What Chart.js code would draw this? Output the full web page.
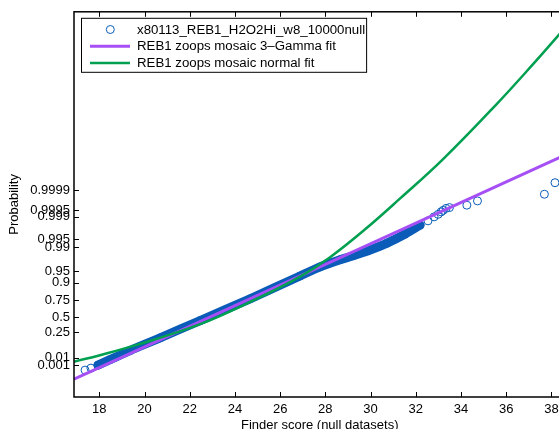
<!DOCTYPE html>
<html>
<head>
<meta charset="utf-8">
<script src="https://cdn.jsdelivr.net/npm/chart.js@4.4.0/dist/chart.umd.min.js"></script>
<style>
  html, body { margin: 0; padding: 0; background: #fff; overflow: hidden; }
  #wrap { width: 580px; height: 440px; }
</style>
</head>
<body>
<div id="wrap"><canvas id="probChart" width="580" height="440"></canvas></div>
<script>
// y values are positions on the probability paper, labels are the probabilities
const probLabels = ['0.001', '0.01', '0.25', '0.5', '0.75', '0.9', '0.95', '0.99', '0.995', '0.999', '0.9995', '0.9999'];
const probPos = [-1.410, -1.197, -0.447, 0, 0.487, 1.013, 1.343, 2.043, 2.288, 2.939, 3.135, 3.716];
const scoreTicks = [18, 20, 22, 24, 26, 28, 30, 32, 34, 36, 38];

// null dataset scores - the middle run is a solid band of overlapping circles
const nullScore = [17.37, 17.63, 17.94, 18.47, 19.36, 20.69, 22.46, 24.67, 26.88, 27.77, 28.65, 29.23, 29.98, 30.73, 31.53, 32.19,
                   32.54, 32.81, 32.99, 33.12, 33.21, 33.34, 33.49, 34.26, 34.73, 37.69, 38.16];
const nullProb = [-1.556, -1.497, -1.410, -1.249, -0.981, -0.610, -0.102, 0.537, 1.205, 1.474, 1.681, 1.798, 1.967, 2.166, 2.434, 2.694,
                  2.822, 2.939, 3.012, 3.085, 3.129, 3.187, 3.211, 3.281, 3.406, 3.602, 3.940];
const denseFrom = 2, denseTo = 16;

const gammaFitScore = [16.88, 38.62];
const gammaFitProb = [-1.818, 4.758];

const normalFitScore = [16.88, 18.03, 19.66, 22.46, 24.67, 26.88, 28.21, 29.76, 31.31, 33.21, 35.58, 37.20, 38.31, 38.62];
const normalFitProb = [-1.308, -1.118, -0.817, -0.207, 0.444, 1.188, 1.757, 2.574, 3.479, 4.632, 6.246, 7.423, 8.260, 8.500];

const blue = '#0a5cb8';
const purple = '#a64ff5';
const green = '#00a050';

function pts(xs, ys) {
    return xs.map((v, i) => ({ x: v, y: ys[i] }));
}

Chart.defaults.font.family = '"Liberation Sans", Arial, sans-serif';
Chart.defaults.font.size = 13;
Chart.defaults.color = '#000';

// matlab style box with inward ticks on all sides
const axesBox = {
    id: 'axesBox',
    afterDraw(chart) {
        const { ctx, chartArea: a, scales: { x, y } } = chart;
        ctx.save();
        ctx.strokeStyle = '#000';
        ctx.lineWidth = 1.5;
        ctx.strokeRect(a.left, a.top, a.right - a.left, a.bottom - a.top);
        ctx.lineWidth = 1;
        ctx.beginPath();
        x.ticks.forEach(t => {
            const px = Math.round(x.getPixelForValue(t.value)) + 0.5;
            ctx.moveTo(px, a.bottom); ctx.lineTo(px, a.bottom - 5);
            ctx.moveTo(px, a.top); ctx.lineTo(px, a.top + 5);
        });
        y.ticks.forEach(t => {
            const py = Math.round(y.getPixelForValue(t.value)) + 0.5;
            ctx.moveTo(a.left, py); ctx.lineTo(a.left + 5, py);
            ctx.moveTo(a.right, py); ctx.lineTo(a.right - 5, py);
        });
        ctx.stroke();
        ctx.restore();
    }
};

// legend box inside the axes, top left
const boxLegend = {
    id: 'boxLegend',
    afterDraw(chart) {
        const { ctx, chartArea: a } = chart;
        const items = chart.data.datasets.filter(d => !d.hideInLegend);
        ctx.save();
        ctx.font = '13.25px "Liberation Sans", Arial, sans-serif';
        const textW = Math.max(...items.map(d => ctx.measureText(d.label).width));
        const left = a.left + 7, top = a.top + 6;
        const w = 57 + textW, h = 54;
        ctx.fillStyle = '#fff';
        ctx.fillRect(left, top, w, h);
        ctx.strokeStyle = '#000';
        ctx.lineWidth = 1;
        ctx.strokeRect(left + 0.5, top + 0.5, w, h);
        items.forEach((d, i) => {
            const cy = top + 11.7 + i * 16.7;
            if (d.showLine) {
                ctx.strokeStyle = d.borderColor;
                ctx.lineWidth = d.borderWidth;
                ctx.beginPath();
                ctx.moveTo(left + 9, cy);
                ctx.lineTo(left + 49, cy);
                ctx.stroke();
            } else {
                ctx.strokeStyle = d.borderColor;
                ctx.lineWidth = 1;
                ctx.beginPath();
                ctx.arc(left + 29.3, cy, 4, 0, Math.PI * 2);
                ctx.stroke();
            }
            ctx.fillStyle = '#000';
            ctx.textBaseline = 'middle';
            ctx.fillText(d.label, left + 56, cy + 0.5);
        });
        ctx.restore();
    }
};

const ctx = document.getElementById('probChart').getContext('2d');
const chart = new Chart(ctx, {
    type: 'scatter',
    data: {
        datasets: [
            {
                label: 'x80113_REB1_H2O2Hi_w8_10000null',
                data: pts(nullScore, nullProb),
                showLine: false,
                pointStyle: 'circle',
                pointRadius: 4,
                pointBorderWidth: 1,
                borderColor: blue,
                backgroundColor: 'rgba(0,0,0,0)',
                order: 3
            },
            {
                label: 'band',
                hideInLegend: true,
                data: pts(nullScore.slice(denseFrom, denseTo), nullProb.slice(denseFrom, denseTo)),
                showLine: true,
                borderColor: blue,
                borderWidth: 9,
                borderCapStyle: 'round',
                borderJoinStyle: 'round',
                tension: 0.3,
                pointRadius: 0,
                order: 4
            },
            {
                label: 'REB1 zoops mosaic 3\u2013Gamma fit',
                data: pts(gammaFitScore, gammaFitProb),
                showLine: true,
                borderColor: purple,
                borderWidth: 3,
                pointRadius: 0,
                order: 2
            },
            {
                label: 'REB1 zoops mosaic normal fit',
                data: pts(normalFitScore, normalFitProb),
                showLine: true,
                borderColor: green,
                borderWidth: 2.5,
                tension: 0.4,
                pointRadius: 0,
                order: 1
            }
        ]
    },
    options: {
        responsive: false,
        animation: false,
        layout: { padding: { left: 0, top: 10, right: 14.6, bottom: 0 } },
        plugins: {
            legend: { display: false },
            tooltip: { enabled: false }
        },
        scales: {
            x: {
                type: 'linear',
                min: 16.88,
                max: 38.62,
                afterBuildTicks: s => { s.ticks = scoreTicks.map(v => ({ value: v })); },
                afterFit: s => { s.height = 43; },
                grid: { display: false, drawTicks: false },
                border: { display: false },
                ticks: { autoSkip: false, maxRotation: 0, padding: 5 },
                title: { display: true, text: 'Finder score (null datasets)', padding: { top: 0, bottom: 7 } }
            },
            y: {
                type: 'linear',
                min: -2.344,
                max: 8.952,
                afterBuildTicks: s => { s.ticks = probPos.map(v => ({ value: v })); },
                afterFit: s => { s.width = 74; },
                grid: { display: false, drawTicks: false },
                border: { display: false },
                ticks: {
                    autoSkip: false,
                    padding: 4,
                    callback: (value, index) => probLabels[index]
                },
                title: { display: true, text: 'Probability', padding: { top: 7, bottom: 0 } }
            }
        }
    },
    plugins: [axesBox, boxLegend]
});
</script>
</body>
</html>
